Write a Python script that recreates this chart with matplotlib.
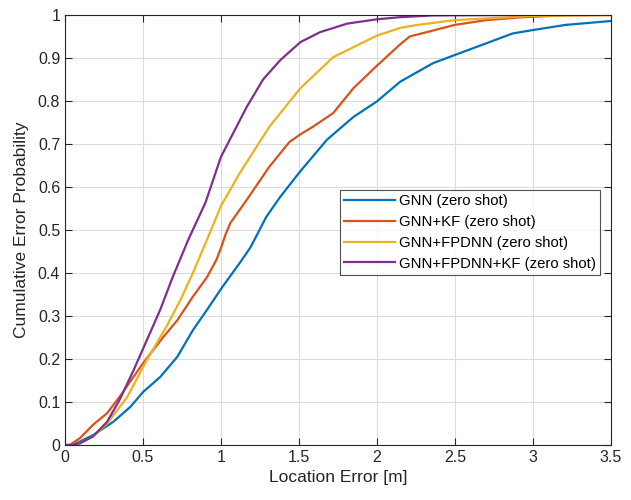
import numpy as np
import matplotlib.pyplot as plt

# values (location error [m], cumulative probability)
gnn_x = [0, 0.05, 0.18, 0.31, 0.42, 0.5, 0.61, 0.72, 0.82, 0.91, 1.01, 1.12, 1.19, 1.29, 1.38,
         1.51, 1.68, 1.85, 2.0, 2.15, 2.36, 2.5, 2.7, 2.87, 3.0, 3.21, 3.5]
gnn_y = [0, 0, 0.023, 0.054, 0.089, 0.123, 0.158, 0.205, 0.267, 0.314, 0.368, 0.423, 0.46, 0.53, 0.577,
         0.637, 0.71, 0.763, 0.799, 0.845, 0.888, 0.907, 0.934, 0.957, 0.965, 0.977, 0.986]

kf_x = [0, 0.03, 0.096, 0.18, 0.27, 0.35, 0.5, 0.63, 0.72, 0.82, 0.91, 0.97, 1.0, 1.03, 1.06, 1.165,
        1.31, 1.44, 1.52, 1.59, 1.72, 1.85, 2.0, 2.15, 2.21, 2.34, 2.5, 2.7, 2.94, 3.2, 3.5]
kf_y = [0, 0, 0.016, 0.047, 0.074, 0.112, 0.19, 0.251, 0.29, 0.345, 0.39, 0.43, 0.458, 0.49, 0.516, 0.57,
        0.647, 0.705, 0.725, 0.74, 0.772, 0.83, 0.882, 0.932, 0.95, 0.962, 0.977, 0.988, 0.995, 0.999, 1.0]

fpdnn_x = [0, 0.06, 0.096, 0.18, 0.27, 0.40, 0.525, 0.65, 0.74, 0.82, 0.91, 1.0, 1.12, 1.31, 1.51,
           1.72, 2.0, 2.15, 2.26, 2.5, 3.0, 3.5]
fpdnn_y = [0, 0, 0.004, 0.02, 0.05, 0.112, 0.198, 0.275, 0.337, 0.40, 0.477, 0.556, 0.632, 0.74, 0.83,
           0.902, 0.952, 0.97, 0.977, 0.988, 0.998, 1.0]

fpdnn_kf_x = [0, 0.04, 0.096, 0.18, 0.27, 0.35, 0.44, 0.525, 0.61, 0.69, 0.79, 0.90, 1.0, 1.165,
              1.27, 1.38, 1.51, 1.635, 1.81, 2.0, 2.15, 2.36, 2.93]
fpdnn_kf_y = [0, 0, 0.004, 0.02, 0.054, 0.105, 0.174, 0.244, 0.314, 0.39, 0.477, 0.563, 0.67, 0.786,
              0.85, 0.895, 0.937, 0.96, 0.98, 0.99, 0.995, 0.999, 1.0]

labels = ['GNN (zero shot)', 'GNN+KF (zero shot)', 'GNN+FPDNN (zero shot)',
          'GNN+FPDNN+KF (zero shot)']
colors = ['#0072BD', '#D95319', '#EDB120', '#7E2F8E']

plt.rcParams['font.family'] = ['Liberation Sans', 'DejaVu Sans']

fig = plt.figure(figsize=(6.31, 5.0), dpi=100)
ax = fig.add_axes([0.103, 0.11, 0.865, 0.86])

series = [(gnn_x, gnn_y), (kf_x, kf_y), (fpdnn_x, fpdnn_y), (fpdnn_kf_x, fpdnn_kf_y)]
for (x, y), lab, c in zip(series, labels, colors):
    ax.plot(x, y, color=c, lw=1.6, label=lab)

ax.set_xlim(0, 3.5)
ax.set_ylim(0, 1)
ax.xaxis.set_ticks(np.arange(0, 3.501, 0.5))
ax.yaxis.set_ticks(np.arange(0, 1.001, 0.1))
ax.set_xticklabels(['0', '0.5', '1', '1.5', '2', '2.5', '3', '3.5'])
ax.set_yticklabels(['0', '0.1', '0.2', '0.3', '0.4', '0.5', '0.6', '0.7', '0.8', '0.9', '1'])
ax.grid(True, color='#dcdcdc', lw=0.8)
ax.set_axisbelow(True)
ax.tick_params(direction='in', top=True, right=True, labelsize=11.5, colors='#262626',
               length=5, width=0.8)
for s in ax.spines.values():
    s.set_color('#262626')
    s.set_linewidth(0.8)

ax.set_xlabel('Location Error [m]', fontsize=12.5, color='#262626', labelpad=4)
ax.set_ylabel('Cumulative Error Probability', fontsize=12.5, color='#262626', labelpad=6)

leg = ax.legend(loc='upper left', bbox_to_anchor=(0.503, 0.593), fontsize=10.7, frameon=True,
                fancybox=False, edgecolor='#262626', handlelength=3.4, handletextpad=0.3,
                borderpad=0.3, labelspacing=0.45, borderaxespad=0)
leg.get_frame().set_linewidth(0.8)

plt.savefig('out.png', dpi=100)
plt.close()
